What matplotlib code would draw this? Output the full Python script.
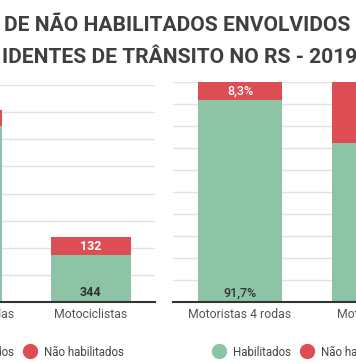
import numpy as np
import matplotlib.pyplot as plt
from matplotlib.lines import Line2D

# dados (RS - 2019)
categories = ['Motoristas 4 rodas', 'Motociclistas']
habilitados = [1300, 344]
nao_habilitados = [118, 132]
series_names = ['Habilitados', 'Não habilitados']
title_line1 = 'DE NÃO HABILITADOS ENVOLVIDOS'
title_line2 = 'IDENTES DE TRÂNSITO NO RS - 2019'

GREEN = '#8cc4a5'
RED = '#dc4e54'
W, H = 356, 364

plt.rcParams['font.family'] = ['Roboto', 'DejaVu Sans']

fig = plt.figure(figsize=(W / 100, H / 100), dpi=100)


def px_axes(x0, x1, ytop, ybot):
    return fig.add_axes([x0 / W, 1 - ybot / H, (x1 - x0) / W, (ybot - ytop) / H])


def style(ax, ymax, step):
    ax.set_ylim(0, ymax)
    ax.set_xlim(-0.5, 1.5)
    ax.set_yticks(np.arange(step, ymax + step / 2, step))
    ax.yaxis.grid(True, color='#e2e2e2', lw=1)
    ax.set_axisbelow(True)
    for s in ['left', 'right', 'top']:
        ax.spines[s].set_visible(False)
    ax.spines['bottom'].set_color('#333333')
    ax.spines['bottom'].set_linewidth(1.5)
    ax.tick_params(axis='y', length=0, labelleft=False)
    ax.tick_params(axis='x', length=0, pad=4, labelsize=8.8, labelcolor='#555555')
    ax.set_xticks(range(len(categories)))
    ax.set_xticklabels(categories)


x = np.arange(len(categories))
hab = np.array(habilitados)
nhab = np.array(nao_habilitados)
total = hab + nhab
bw = 0.62

# painel absoluto
ax1 = px_axes(-102, 155, 85, 302)
style(ax1, 1600, 200)
ax1.bar(x, hab, bw, color=GREEN)
ax1.bar(x, nhab, bw, bottom=hab, color=RED)
for i in x:
    ax1.text(i, hab[i] + nhab[i] / 2, str(nhab[i]), ha='center', va='center',
             color='white', fontsize=9, fontweight='bold')
    ax1.annotate(str(hab[i]), (i, 0), xytext=(0, 6.5), textcoords='offset points',
                 ha='center', va='center', color='#333333', fontsize=9, fontweight='bold')

# painel percentual
ph = hab / total * 100
pn = nhab / total * 100
ax2 = px_axes(173, 441, 82, 302)
style(ax2, 100, 10)
ax2.bar(x, ph, bw, color=GREEN)
ax2.bar(x, pn, bw, bottom=ph, color=RED)
fmt = lambda v: f'{v:.1f}'.replace('.', ',') + '%'
for i in x:
    ax2.text(i, ph[i] + pn[i] / 2, fmt(pn[i]), ha='center', va='center',
             color='white', fontsize=9, fontweight='medium')
    ax2.annotate(fmt(ph[i]), (i, 0), xytext=(0, 6.5), textcoords='offset points',
                 ha='center', va='center', color='#333333', fontsize=9, fontweight='medium')

# legendas
handles = [Line2D([], [], ls='none', marker='o', markersize=10, color=c) for c in (GREEN, RED)]
for cx in (29, 306):
    fig.legend(handles, series_names, loc='center', ncol=2, frameon=False,
               bbox_to_anchor=(cx / W, 1 - 352 / H), bbox_transform=fig.transFigure,
               fontsize=8.3, labelcolor='#444444', handlelength=1.3,
               handletextpad=0.6, columnspacing=0.7)

# título
fig.text(4 / W, 1 - 31 / H, title_line1, ha='left', va='baseline',
         fontsize=15.1, fontweight='bold', color='#3f3f3f')
fig.text(1.5 / W, 1 - 63 / H, title_line2, ha='left', va='baseline',
         fontsize=15.1, fontweight='bold', color='#3f3f3f')

fig.savefig('out.png', dpi=100)
